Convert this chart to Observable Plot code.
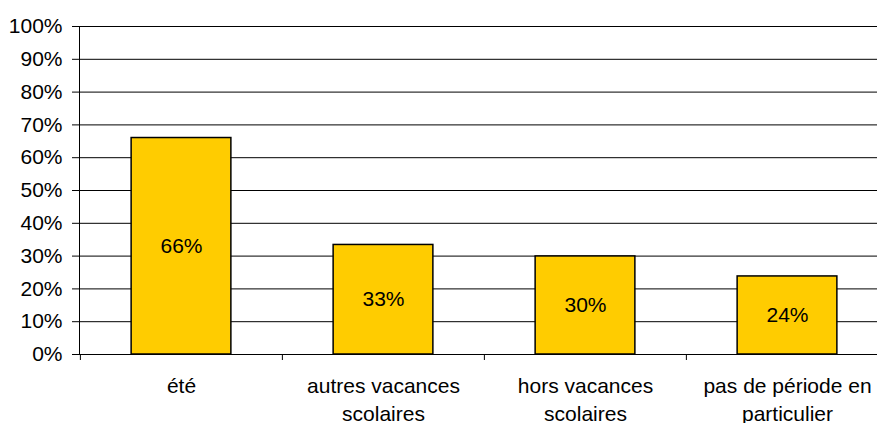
<!DOCTYPE html>
<html>
<head>
<meta charset="utf-8">
<script src="https://cdn.jsdelivr.net/npm/d3@7"></script>
<script src="https://cdn.jsdelivr.net/npm/@observablehq/plot@0.6"></script>
<style>
  body { margin: 0; background: #fff; }
  svg { font-family: "Liberation Sans", Arial, sans-serif; }
</style>
</head>
<body>
<div id="chart"></div>
<script>
const categories = ["été", "autres vacances\nscolaires", "hors vacances\nscolaires", "pas de période en\nparticulier"];
const values = [66, 33.4, 29.9, 23.8];
const labels = ["66%", "33%", "30%", "24%"];
const yTicks = [0, 10, 20, 30, 40, 50, 60, 70, 80, 90, 100];

const data = categories.map((c, i) => ({category: c, value: values[i], label: labels[i]}));

const W = 877, H = 423;
const xRange = [79, 888];
const step = (xRange[1] - xRange[0]) / categories.length;
const inset = (step - 100) / 2;

const chart = Plot.plot({
  width: W,
  height: H,
  marginTop: 26,
  marginBottom: 69,
  marginLeft: 79,
  marginRight: 0,
  style: {fontFamily: "Liberation Sans, Arial, sans-serif", fontSize: "21px", color: "#000", background: "#fff"},
  x: {domain: categories, range: xRange, padding: 0, axis: null},
  y: {domain: [0, 100]},
  marks: [
    Plot.ruleY(yTicks, {stroke: "#000", strokeWidth: 1}),
    Plot.frame({anchor: "left", stroke: "#000"}),
    Plot.axisY({ticks: yTicks, tickSize: 7, tickPadding: 10, tickFormat: d => d + "%", fontSize: 21, stroke: "#000", label: null}),
    Plot.ruleX(categories, {x: d => d, y1: 0, y2: 0, insetBottom: -6, dx: -step / 2, stroke: "#000"}),
    Plot.barY(data, {x: "category", y: "value", fill: "#FFCC00", stroke: "#000", strokeWidth: 1.5, insetLeft: inset, insetRight: inset}),
    Plot.text(data, {x: "category", y: d => d.value / 2, text: "label", fontSize: 21, fill: "#000"}),
    Plot.text(categories, {x: d => d, y: 0, text: d => d, lineAnchor: "top", lineHeight: 1.35, dy: 18, fontSize: 21, fill: "#000"})
  ]
});
document.getElementById("chart").appendChild(chart);
</script>
</body>
</html>
